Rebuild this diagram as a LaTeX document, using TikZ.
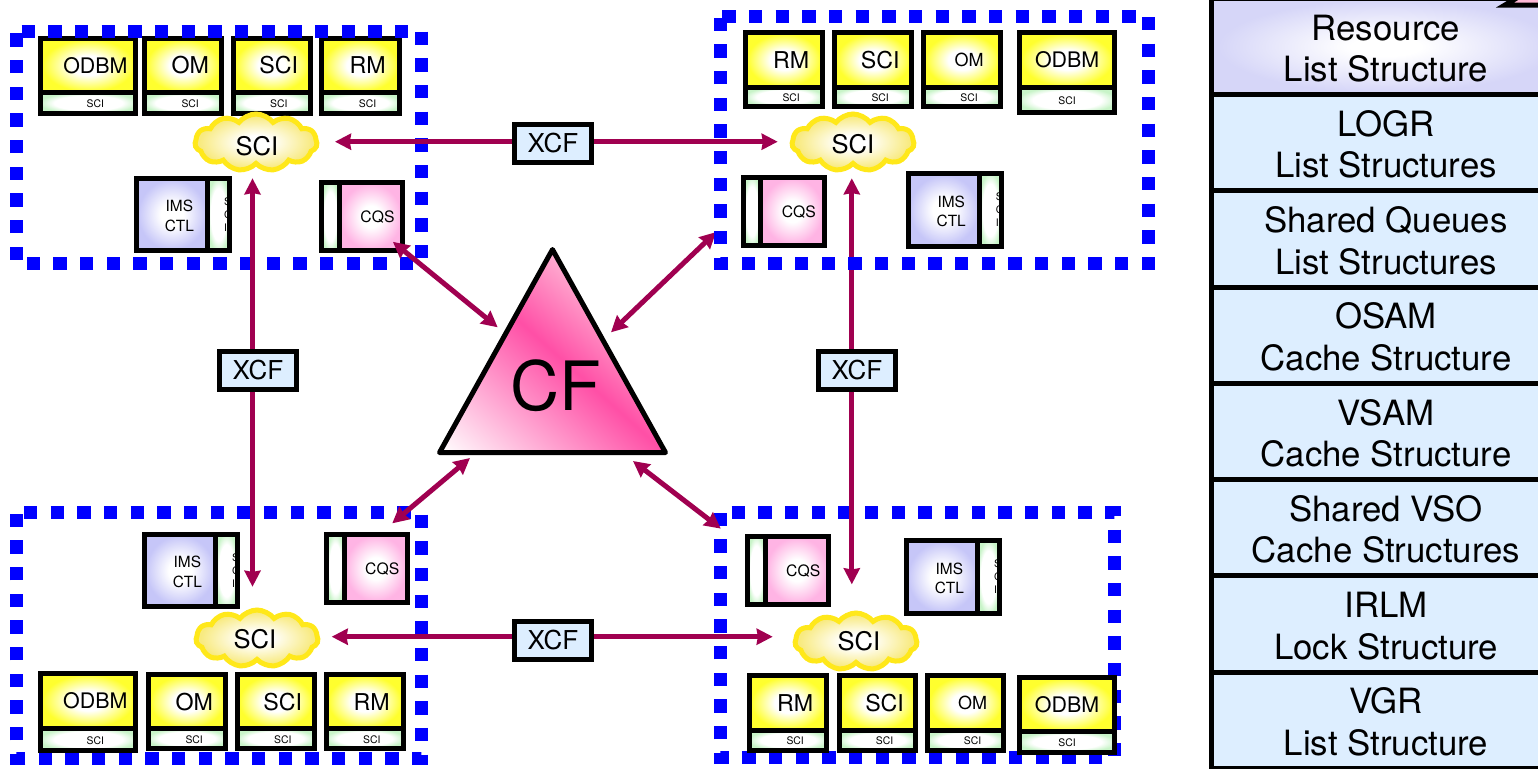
\documentclass[tikz,border=0pt]{standalone}
\usepackage{fontspec}
\setmainfont{TeX Gyre Heros}
\usepackage{xcolor}
\usepackage{tikz}
\usetikzlibrary{arrows.meta,positioning,shapes.geometric,shapes.symbols}
\definecolor{cYellow}{HTML}{FFFF2E}
\definecolor{cLav}{HTML}{C6C6F8}
\definecolor{cPink}{HTML}{FFB4E4}
\definecolor{cStrip}{HTML}{C8F4C8}
\definecolor{cList}{HTML}{DDEEFF}
\definecolor{cArrow}{HTML}{A00050}
\definecolor{cCloud}{HTML}{FFE81A}
\definecolor{cCloudIn}{HTML}{F8EA80}
\definecolor{cHot}{HTML}{FF4FA6}
\definecolor{cPale}{HTML}{FFB8D6}
\definecolor{cResEdge}{HTML}{D6D6F8}
\pgfdeclareradialshading{yglow}{\pgfpointorigin}{color(0bp)=(white); color(9bp)=(white); color(24bp)=(cYellow); color(100bp)=(cYellow)}
\pgfdeclareradialshading{lavglow}{\pgfpointorigin}{color(0bp)=(white); color(8bp)=(white); color(24bp)=(cLav); color(100bp)=(cLav)}
\pgfdeclareradialshading{pinkglow}{\pgfpointorigin}{color(0bp)=(white); color(8bp)=(white); color(24bp)=(cPink); color(100bp)=(cPink)}
\pgfdeclareradialshading{stripglow}{\pgfpointorigin}{color(0bp)=(white); color(18bp)=(white); color(26bp)=(cStrip); color(100bp)=(cStrip)}
\pgfdeclareradialshading{cloudglow}{\pgfpointorigin}{color(0bp)=(white); color(6bp)=(white); color(23bp)=(cCloudIn); color(100bp)=(cCloudIn)}
\pgfdeclareradialshading{resglow}{\pgfpointorigin}{color(0bp)=(white); color(5bp)=(white); color(24bp)=(cResEdge); color(100bp)=(cResEdge)}
\pgfdeclarehorizontalshading{cfglow}{100bp}{color(0bp)=(white); color(15bp)=(white); color(50bp)=(cHot); color(69bp)=(cPale); color(100bp)=(cPale)}
\newcommand{\lstup}{\rule{0pt}{14.8pt}}
\tikzset{
  nudge/.code={\def\nudgeval{#1}},
  nudged/.style={nudge=#1,execute at begin node=\hspace{\nudgeval}\rule{0pt}{\ruleval}},
  ruled/.code={\def\ruleval{#1}},
  ruled=0pt,
  ybox/.style={draw=black,line width=2.5pt,shade,shading=yglow,inner sep=0pt,minimum width=#1*0.5pt,minimum height=27.3pt,font=\fontsize{11.6}{13}\selectfont,nudged=7pt},
  yodbm/.style={ybox=#1,font=\fontsize{10.7}{12}\selectfont},
  ysmall/.style={ybox=#1,font=\fontsize{9}{11}\selectfont},
  hstrip/.style 2 args={draw=black,line width=2.5pt,shade,shading=stripglow,inner sep=0pt,minimum width=#1*0.5pt,minimum height=#2*0.5pt,font=\fontsize{5.2}{6}\selectfont,nudged=7pt,ruled=4.8pt},
  imsbox/.style={draw=black,line width=2.5pt,shade,shading=lavglow,inner sep=0pt,minimum width=35.5pt,minimum height=36.3pt},
  imstxt/.style={font=\fontsize{7.7}{9.7}\selectfont,align=center,inner sep=0pt,xshift=3.7pt,yshift=-0.6pt},
  cqsbox/.style={draw=black,line width=2.5pt,shade,shading=pinkglow,inner sep=0pt,minimum width=31.7pt,minimum height=34.2pt,font=\fontsize{7.85}{9}\selectfont,nudged=6.5pt,ruled=6.6pt},
  vstrip/.style={draw=black,line width=2.5pt,shade,shading=stripglow,inner sep=0pt,minimum width=#1*0.5pt},
  vtxt/.style={font=\fontsize{5.2}{6.5}\selectfont,align=left,inner sep=0pt,xshift=4.7pt},
  scicloud/.style 2 args={cloud,cloud puffs=11,cloud puff arc=105,aspect=2.2,draw=cCloud,line width=2.5pt,shade,shading=cloudglow,inner sep=0pt,minimum width=61pt,minimum height=28.5pt,font=\fontsize{12.8}{14}\selectfont,nudged=#1,ruled=#2},
  xcf/.style={draw=black,line width=2.5pt,fill=cList,inner sep=0pt,minimum width=38.5pt,minimum height=19pt,font=\fontsize{13}{14}\selectfont},
  cfnode/.style={isosceles triangle,isosceles triangle stretches,shape border rotate=90,draw=black,line width=2.5pt,line join=round,shade,shading=cfglow,shading angle=48,inner sep=0pt,minimum width=113pt,minimum height=101.5pt},
  lst/.style={draw=black,line width=2.5pt,fill=cList,inner sep=0pt,minimum width=175pt,minimum height=48.125pt,align=center,font=\fontsize{17.4}{20.75}\selectfont},
  syswall/.style={draw=blue,line width=6.667pt,dash pattern=on 6.667pt off 6.667pt},
  arr/.style={-{Stealth[length=8pt,width=8pt,inset=0.6pt]},line width=2.5pt,color=cArrow},
  darr/.style={{Stealth[length=8pt,width=8pt,inset=0.6pt]}-{Stealth[length=8pt,width=8pt,inset=0.6pt]},line width=2.5pt,color=cArrow},
}
\begin{document}
\begin{tikzpicture}[x=0.5pt,y=-0.5pt]
  \path[use as bounding box,clip] (0,0) rectangle (1538,768);
  % dotted walls under the boxes
  \draw[syswall,dash phase=9.68pt] (16.7,512.3) -- (421.7,512.3) -- (421.7,758.3) -- (16.7,758.3) -- cycle;
  \draw[syswall,dash phase=7.83pt] (720.7,512.3) -- (1114.3,512.3) -- (1114.3,757.7) -- (720.7,757.7) -- cycle;
  % top left system
  \node[yodbm=95] (odbm1) at (88.4,65.4) {ODBM};
  \node[hstrip={95}{20.5},below=-2.5pt of odbm1] (sodbm1) {SCI};
  \node[ybox=77,right=1.9pt of odbm1] (om1) {OM};
  \node[hstrip={77}{20.5},below=-2.5pt of om1] (som1) {SCI};
  \node[ybox=77,right=3.3pt of om1] (sci1) {SCI};
  \node[hstrip={77}{20.5},below=-2.5pt of sci1] (ssci1) {SCI};
  \node[ybox=77.5,right=3.25pt of sci1] (rm1) {RM};
  \node[hstrip={77.5}{20.5},below=-2.5pt of rm1] (srm1) {SCI};
  \node[scicloud={1pt}{13.2pt}] (cloud1) at (256,142.5) {SCI};
  \node[imsbox,label={[imstxt]center:IMS\\CTL}] (ims1) at (172,214.5) {};
  \node[vstrip=22,minimum height=36.3pt,right=-2.5pt of ims1,label={[vtxt]center:S\\C\\I}] (sims1) {};
  \node[cqsbox] (cqs1) at (371,216.6) {CQS};
  \node[vstrip=18,minimum height=34.2pt,left=-2.5pt of cqs1] (scqs1) {};
  % top right system
  \node[ybox=76.7] (rm2) at (784.2,60) {RM};
  \node[hstrip={76.7}{19.3},below=-2.5pt of rm2] (srm2) {SCI};
  \node[ybox=76.7,right=3.65pt of rm2] (sci2) {SCI};
  \node[hstrip={76.7}{19.3},below=-2.5pt of sci2] (ssci2) {SCI};
  \node[ysmall=77.2,right=3.5pt of sci2] (om2) {OM};
  \node[hstrip={77.2}{19.3},below=-2.5pt of om2] (som2) {SCI};
  \node[yodbm=95.3,nudge=0pt,right=6.85pt of om2] (odbm2) {ODBM};
  \node[hstrip={95.3}{25.5},nudge=0pt,below=-2.5pt of odbm2] (sodbm2) {SCI};
  \node[scicloud={0pt}{11.7pt}] (cloud2) at (853,142.5) {SCI};
  \node[cqsbox] (cqs2) at (792.4,211.3) {CQS};
  \node[vstrip=17.5,minimum height=34.2pt,left=-2.5pt of cqs2] (scqs2) {};
  \node[imsbox,label={[imstxt]center:IMS\\CTL}] (ims2) at (943.8,210) {};
  \node[vstrip=22,minimum height=36.3pt,right=-2.5pt of ims2,label={[vtxt]center:S\\C\\I}] (sims2) {};
  % bottom left system
  \node[yodbm=95] (odbm3) at (88.3,700.8) {ODBM};
  \node[hstrip={95}{22.5},below=-2.5pt of odbm3] (sodbm3) {SCI};
  \node[ybox=77.3] (om3) at (187.2,701.6) {OM};
  \node[hstrip={77.3}{19.3},below=-2.5pt of om3] (som3) {SCI};
  \node[ybox=76.5,right=3.35pt of om3] (sci3) {SCI};
  \node[hstrip={76.5}{19.3},below=-2.5pt of sci3] (ssci3) {SCI};
  \node[ybox=76.8,right=3.65pt of sci3] (rm3) {RM};
  \node[hstrip={76.8}{19.3},below=-2.5pt of rm3] (srm3) {SCI};
  \node[scicloud={-2pt}{10.7pt}] (cloud3) at (257,638.5) {SCI};
  \node[imsbox,label={[imstxt]center:IMS\\CTL}] (ims3) at (180,570.5) {};
  \node[vstrip=22,minimum height=36.3pt,right=-2.5pt of ims3,label={[vtxt]center:S\\C\\I}] (sims3) {};
  \node[cqsbox] (cqs3) at (375.75,568.4) {CQS};
  \node[vstrip=17.5,minimum height=34.2pt,left=-2.5pt of cqs3] (scqs3) {};
  % bottom right system
  \node[ybox=76.7] (rm4) at (788.2,703) {RM};
  \node[hstrip={76.7}{19.8},below=-2.5pt of rm4] (srm4) {SCI};
  \node[ybox=76.7,right=3.85pt of rm4] (sci4) {SCI};
  \node[hstrip={76.7}{19.8},below=-2.5pt of sci4] (ssci4) {SCI};
  \node[ysmall=76,right=3.35pt of sci4] (om4) {OM};
  \node[hstrip={76}{19.8},below=-2.5pt of om4] (som4) {SCI};
  \node[yodbm=95.6,nudge=0pt] (odbm4) at (1067,704.5) {ODBM};
  \node[hstrip={95.6}{20.2},nudge=0pt,below=-2.5pt of odbm4] (sodbm4) {SCI};
  \node[scicloud={3pt}{9.5pt}] (cloud4) at (856,641.5) {SCI};
  \node[cqsbox] (cqs4) at (796.75,570.3) {CQS};
  \node[vstrip=17.5,minimum height=34.2pt,left=-2.5pt of cqs4] (scqs4) {};
  \node[imsbox,label={[imstxt]center:IMS\\CTL}] (ims4) at (942,577) {};
  \node[vstrip=22,minimum height=36.3pt,right=-2.5pt of ims4,label={[vtxt]center:S\\C\\I}] (sims4) {};
  % top left wall goes over its boxes
  \draw[syswall,dash phase=10.83pt] (16.7,31.7) -- (421.7,31.7) -- (421.7,263.3) -- (16.7,263.3) -- cycle;
  % coupling facility and links
  \node[cfnode,anchor=apex,label={[font=\fontsize{34}{36}\selectfont,inner sep=0pt,xshift=1.5pt]center:CF}] (cf) at (552.5,243) {};
  \node[xcf] (xcft) at (553,143) {XCF};
  \node[xcf] (xcfb) at (553,640) {XCF};
  \node[xcf] (xcfl) at (258,370) {XCF};
  \node[xcf] (xcfr) at (857,370) {XCF};
  \coordinate (tipt1) at (335,141.7);
  \coordinate (tipt2) at (777.7,141.7);
  \coordinate (tipb1) at (331.7,636.7);
  \coordinate (tipb2) at (772.7,636.7);
  \coordinate (tipl1) at (252.5,178.3);
  \coordinate (tipl2) at (252.5,586.7);
  \coordinate (tipr1) at (851.8,178.3);
  \coordinate (tipr2) at (851.8,584.3);
  \draw[arr] (xcft.west |- tipt1) -- (tipt1);
  \draw[arr] (xcft.east |- tipt2) -- (tipt2);
  \draw[arr] (xcfb.west |- tipb1) -- (tipb1);
  \draw[arr] (xcfb.east |- tipb2) -- (tipb2);
  \draw[arr] (xcfl.north -| tipl1) -- (tipl1);
  \draw[arr] (xcfl.south -| tipl2) -- (tipl2);
  \draw[arr] (xcfr.north -| tipr1) -- (tipr1);
  \draw[arr] (xcfr.south -| tipr2) -- (tipr2);
  \draw[darr] ([shift={(-12.3,-11.5)}]cqs1.south east) -- ([shift={(-54.8,84.3)}]cf.apex);
  \draw[darr] ([shift={(-24.7,57.5)}]scqs2.north west) -- ([shift={(58.5,89.3)}]cf.apex);
  \draw[darr] ([shift={(-17.7,-8.4)}]cqs3.north east) -- ([shift={(-82.5,215)}]cf.apex);
  \draw[darr] ([shift={(-24.3,-5)}]scqs4.north west) -- ([shift={(80.5,218)}]cf.apex);
  % top right wall goes over the arrow
  \draw[syswall,dash phase=12.53pt] (720.7,16.7) -- (1148.7,16.7) -- (1148.7,263.3) -- (720.7,263.3) -- cycle;
  % structures column
  \node[lst,shade,shading=resglow] (lres) at (1386,46.4) {\lstup Resource\\List Structure};
  \node[lst,below=-2.5pt of lres] (llogr) {\lstup LOGR\\List Structures};
  \node[lst,below=-2.5pt of llogr] (lsq) {\lstup Shared Queues\\List Structures};
  \node[lst,below=-2.5pt of lsq] (losam) {\lstup OSAM\\Cache Structure};
  \node[lst,below=-2.5pt of losam] (lvsam) {\lstup VSAM\\Cache Structure};
  \node[lst,below=-2.5pt of lvsam] (lvso) {\lstup Shared VSO\\Cache Structures};
  \node[lst,below=-2.5pt of lvso] (lirlm) {\lstup IRLM\\Lock Structure};
  \node[lst,below=-2.5pt of lirlm] (lvgr) {\lstup VGR\\List Structure};
  % corner of the next shape, cut by the page
  \draw[line width=2.5pt,fill=cPale] (1505,5) -- (1600,5) -- (1530,-10) -- cycle;
\end{tikzpicture}
\end{document}
